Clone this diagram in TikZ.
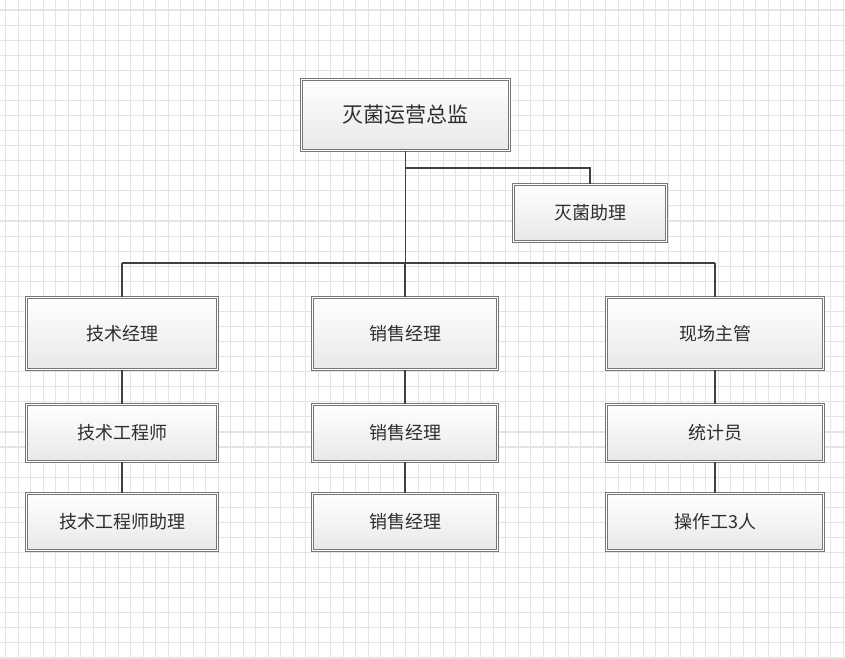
\documentclass[tikz,border=0pt]{standalone}
\usepackage{fontspec}
\newfontfamily\cjk{Noto Sans CJK SC}
\usetikzlibrary{positioning}
\definecolor{gridc}{HTML}{E4E4E4}
\definecolor{linec}{HTML}{404040}
\definecolor{boxc}{HTML}{777777}
\definecolor{txtc}{HTML}{2E2E2E}
\tikzset{
  orgbox/.style={draw=boxc, double=white, double distance=1.1pt, line width=1pt,
    top color=white, bottom color=black!9, text=txtc, inner sep=0pt,
    font=\cjk\fontsize{18}{21}\selectfont},
  conn/.style={draw=linec, line width=1.3pt},
}
\begin{document}
\begin{tikzpicture}[x=1pt,y=-1pt]
\useasboundingbox (0,0) rectangle (845,658);
\fill[white] (0,0) rectangle (845,658);
% grid
\foreach \k in {0,...,67} {\draw[gridc, line width=1.1pt] ({5.7+12.5*\k},0) -- ({5.7+12.5*\k},658);}
\foreach \k in {0,...,43} {\draw[gridc, line width=1.1pt] (0,{10+15.07*\k}) -- (845,{10+15.07*\k});}
% nodes
\node[orgbox, minimum width=208pt, minimum height=71pt, font=\cjk\fontsize{21}{25}\selectfont] (top) at (405.5,115) {灭菌运营总监};
\node[orgbox, minimum width=153pt, minimum height=57pt] (asst) at (590,213) {灭菌助理};
\node[orgbox, minimum width=191pt, minimum height=72pt] (L1) at (122,333.5) {技术经理};
\node[orgbox, minimum width=191pt, minimum height=57pt] (L2) at (122,433) {技术工程师};
\node[orgbox, minimum width=191pt, minimum height=57pt] (L3) at (122,522) {技术工程师助理};
\node[orgbox, minimum width=185pt, minimum height=72pt] (M1) at (405,333.5) {销售经理};
\node[orgbox, minimum width=185pt, minimum height=57pt] (M2) at (405,433) {销售经理};
\node[orgbox, minimum width=185pt, minimum height=57pt] (M3) at (405,522) {销售经理};
\node[orgbox, minimum width=217pt, minimum height=72pt] (R1) at (715,333.5) {现场主管};
\node[orgbox, minimum width=217pt, minimum height=57pt] (R2) at (715,433) {统计员};
\node[orgbox, minimum width=217pt, minimum height=57pt] (R3) at (715,522) {操作工3人};
% connectors
\coordinate (j1) at (405,168);
\coordinate (bus) at (405,263);
\draw[conn] (top.south) -- (top.south |- bus);
\draw[conn] (top.south |- j1) -| (asst.north);
\draw[conn] (L1.north |- bus) -- (R1.north |- bus);
\draw[conn] (L1.north |- bus) -- (L1.north);
\draw[conn] (M1.north |- bus) -- (M1.north);
\draw[conn] (R1.north |- bus) -- (R1.north);
\draw[conn] (L1.south) -- (L2.north);
\draw[conn] (L2.south) -- (L3.north);
\draw[conn] (M1.south) -- (M2.north);
\draw[conn] (M2.south) -- (M3.north);
\draw[conn] (R1.south) -- (R2.north);
\draw[conn] (R2.south) -- (R3.north);
\end{tikzpicture}
\end{document}
